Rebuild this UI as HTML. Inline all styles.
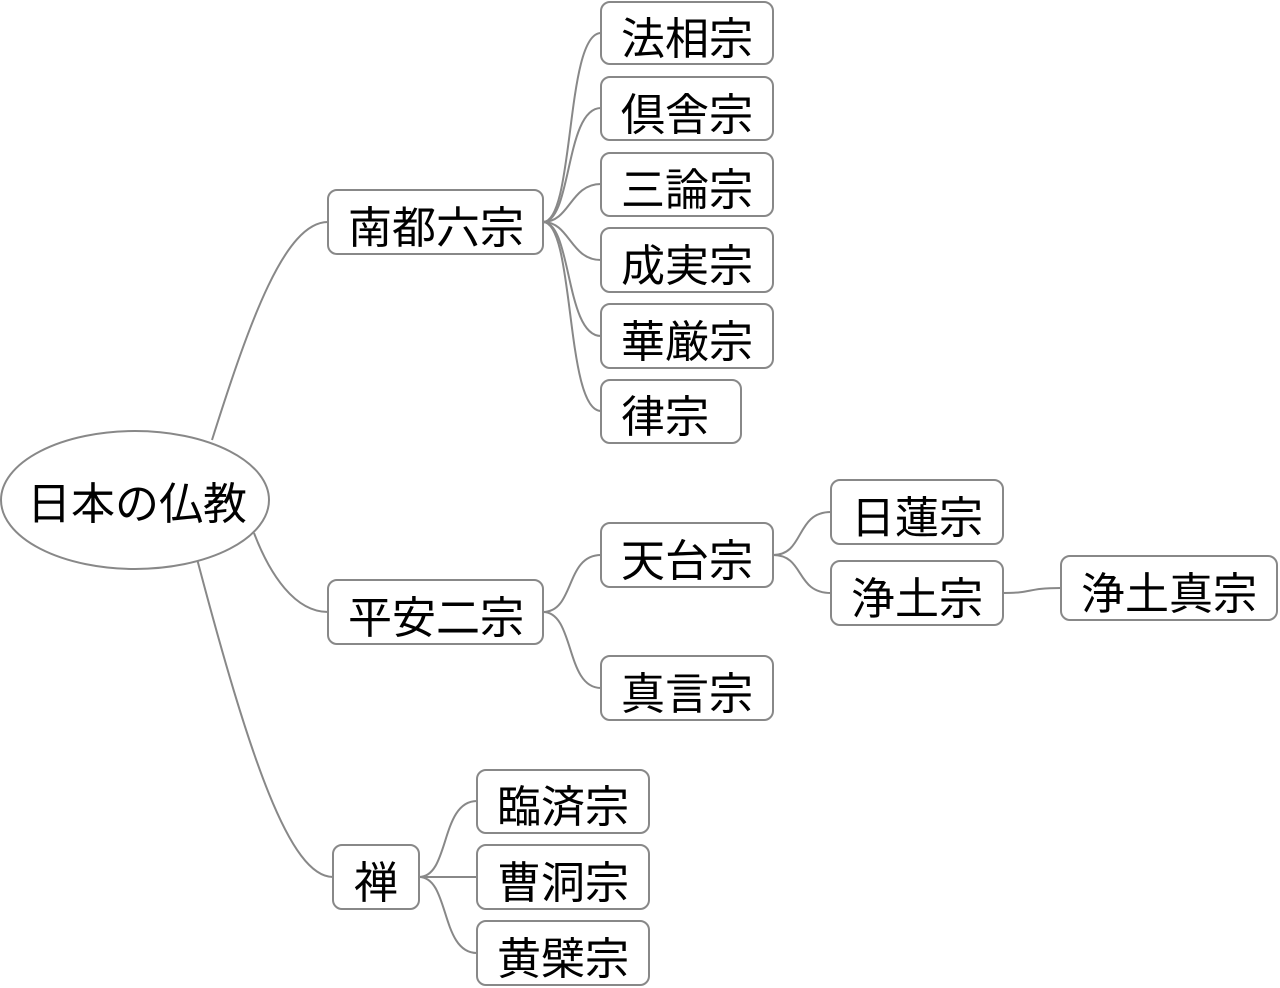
<!DOCTYPE html>
<html><head><meta charset="utf-8"><style>
html,body{margin:0;padding:0;background:#fff;}
svg{display:block}
text{font-family:"Liberation Sans","Noto Sans CJK JP",sans-serif;font-size:44px;fill:#000;}
</style></head><body>
<svg width="1280" height="988" viewBox="0 0 1280 988" xmlns="http://www.w3.org/2000/svg">
<g fill="none" stroke="#888" stroke-width="2">
<!-- root connectors -->
<path d="M212,440 C250,320 285,222 328,222"/>
<path d="M254,533 C270,575 295,612 328,612"/>
<path d="M196,555 C250,760 290,877 333,877"/>
<!-- 南都六宗 -->
<path d="M543,222 C575,222 565,33 601,33"/>
<path d="M543,222 C572,222 565,108 601,108"/>
<path d="M543,222 C570,222 570,184 601,184"/>
<path d="M543,222 C570,222 570,260 601,260"/>
<path d="M543,222 C572,222 565,336 601,336"/>
<path d="M543,222 C575,222 565,411 601,411"/>
<!-- 平安二宗 -->
<path d="M543,612 C575,612 565,555 601,555"/>
<path d="M543,612 C575,612 565,688 601,688"/>
<!-- 天台宗 -->
<path d="M773,555 C805,555 795,512 831,512"/>
<path d="M773,555 C805,555 795,593 831,593"/>
<!-- 浄土宗 -->
<path d="M1003,593 C1035,593 1025,588 1061,588"/>
<!-- 禅 -->
<path d="M419,877 C450,877 440,801 477,801"/>
<path d="M419,877 L477,877"/>
<path d="M419,877 C450,877 440,953 477,953"/>
<ellipse cx="135" cy="500" rx="134" ry="69" fill="#fff"/>
<rect x="328" y="190" width="215" height="64" rx="9" fill="#fff"/>
<rect x="601" y="2" width="172" height="62" rx="9" fill="#fff"/>
<rect x="601" y="77" width="172" height="63" rx="9" fill="#fff"/>
<rect x="601" y="153" width="172" height="63" rx="9" fill="#fff"/>
<rect x="601" y="228" width="172" height="64" rx="9" fill="#fff"/>
<rect x="601" y="304" width="172" height="64" rx="9" fill="#fff"/>
<rect x="601" y="380" width="140" height="63" rx="9" fill="#fff"/>
<rect x="328" y="580" width="215" height="64" rx="9" fill="#fff"/>
<rect x="601" y="523" width="172" height="64" rx="9" fill="#fff"/>
<rect x="601" y="656" width="172" height="64" rx="9" fill="#fff"/>
<rect x="831" y="480" width="172" height="64" rx="9" fill="#fff"/>
<rect x="831" y="561" width="172" height="64" rx="9" fill="#fff"/>
<rect x="1061" y="556" width="216" height="64" rx="9" fill="#fff"/>
<rect x="333" y="845" width="86" height="64" rx="9" fill="#fff"/>
<rect x="477" y="770" width="172" height="63" rx="9" fill="#fff"/>
<rect x="477" y="845" width="172" height="64" rx="9" fill="#fff"/>
<rect x="477" y="921" width="172" height="64" rx="9" fill="#fff"/>
</g>
<text x="27" y="519">日本の仏教</text>
<text x="348" y="243">南都六宗</text>
<text x="621" y="54">法相宗</text>
<text x="621" y="130">倶舎宗</text>
<text x="621" y="205">三論宗</text>
<text x="621" y="281">成実宗</text>
<text x="621" y="357">華厳宗</text>
<text x="621" y="432">律宗</text>
<text x="348" y="633">平安二宗</text>
<text x="621" y="576">天台宗</text>
<text x="621" y="709">真言宗</text>
<text x="851" y="533">日蓮宗</text>
<text x="851" y="614">浄土宗</text>
<text x="1081" y="609">浄土真宗</text>
<text x="354" y="898">禅</text>
<text x="497" y="822">臨済宗</text>
<text x="497" y="898">曹洞宗</text>
<text x="497" y="974">黄檗宗</text>
</svg>
</body></html>
